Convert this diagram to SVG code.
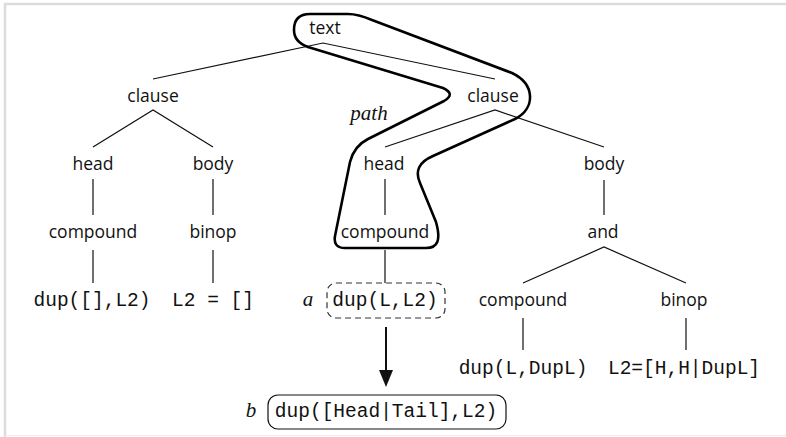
<svg xmlns="http://www.w3.org/2000/svg" width="786" height="437" viewBox="0 0 786 437">
<style>
.s{font-family:"Open Sans","Noto Sans",sans-serif;font-size:17.5px;fill:#111;text-anchor:middle}
.m{font-family:"Liberation Mono","DejaVu Sans Mono",monospace;font-size:19.5px;fill:#111;text-anchor:middle}
.i{font-family:"Liberation Serif",serif;font-style:italic;font-size:21px;fill:#111;text-anchor:middle}
.e{stroke:#111;stroke-width:1.2;fill:none}
</style>
<rect width="786" height="437" fill="#fff"/>
<path d="M5 437 V4 H786" fill="none" stroke="#dcdcdc" stroke-width="2.5"/>
<path d="M5 435.5 H786" fill="none" stroke="#eeeeee" stroke-width="1"/>
<g id="connectors">
<path class="e" d="M153 79 L323 43 L495 79"/>
<path class="e" d="M93 147 L153 110 L213 147"/>
<path class="e" d="M385 147 L495 110 L604 147"/>
<path class="e" d="M93 179 V215 M93 250 V283 M213 179 V215 M213 250 V283"/>
<path class="e" d="M385 179 V215 M385 250 V283 M604 180 V215"/>
<path class="e" d="M523 283 L604 247 L686 283"/>
<path class="e" d="M523 318 V350 M686 318 V350"/>
<line x1="386" y1="327" x2="386" y2="372" stroke="#111" stroke-width="2"/>
<polygon points="379,370 393,370 386,387" fill="#111"/>
</g>
<g id="path-highlight">
<path d="M294 30 Q294 14 310 14 L348 14 Q358 14 372 20 L512 73 C535 84 536 108 515 119 L433 156 Q412 165 420 183 L436 222 C441 240 438 248 426 248 L345 248 Q333 248 335 236 L350 162 Q354 146 368 139 L444 101 Q456 94 443 88 L308 47 Q294 42 294 30 Z" fill="none" stroke="#000" stroke-width="2.6" stroke-linejoin="round"/>
<text class="i" x="369" y="120">path</text>
</g>
<g id="n-text"><text class="s" x="325" y="34">text</text></g>
<g id="n-clause1"><text class="s" x="153" y="102">clause</text></g>
<g id="n-clause2"><text class="s" x="493" y="102">clause</text></g>
<g id="n-head1"><text class="s" x="93" y="170">head</text></g>
<g id="n-body1"><text class="s" x="213" y="170">body</text></g>
<g id="n-head2"><text class="s" x="384" y="170">head</text></g>
<g id="n-body2"><text class="s" x="604" y="170">body</text></g>
<g id="n-compound1"><text class="s" x="93" y="238">compound</text></g>
<g id="n-binop1"><text class="s" x="213" y="238">binop</text></g>
<g id="n-compound2"><text class="s" x="385" y="238">compound</text></g>
<g id="n-and"><text class="s" x="603" y="238">and</text></g>
<g id="n-dup1"><text class="m" x="92" y="306">dup([],L2)</text></g>
<g id="n-eq1"><text class="m" x="213" y="306">L2 = []</text></g>
<g id="n-a">
<text class="i" x="308" y="306">a</text>
<rect x="327" y="283" width="118" height="35" rx="9" fill="none" stroke="#333" stroke-width="1.2" stroke-dasharray="6 4"/>
<text class="m" x="385" y="306">dup(L,L2)</text>
</g>
<g id="n-compound3"><text class="s" x="523" y="306">compound</text></g>
<g id="n-binop2"><text class="s" x="684" y="306">binop</text></g>
<g id="n-dup3"><text class="m" x="523" y="374">dup(L,DupL)</text></g>
<g id="n-eq2"><text class="m" x="684" y="374">L2=[H,H|DupL]</text></g>
<g id="n-b">
<text class="i" x="251" y="417">b</text>
<rect x="268" y="395" width="238" height="34" rx="10" fill="none" stroke="#111" stroke-width="1.2"/>
<text class="m" x="386" y="417">dup([Head|Tail],L2)</text>
</g>
</svg>
